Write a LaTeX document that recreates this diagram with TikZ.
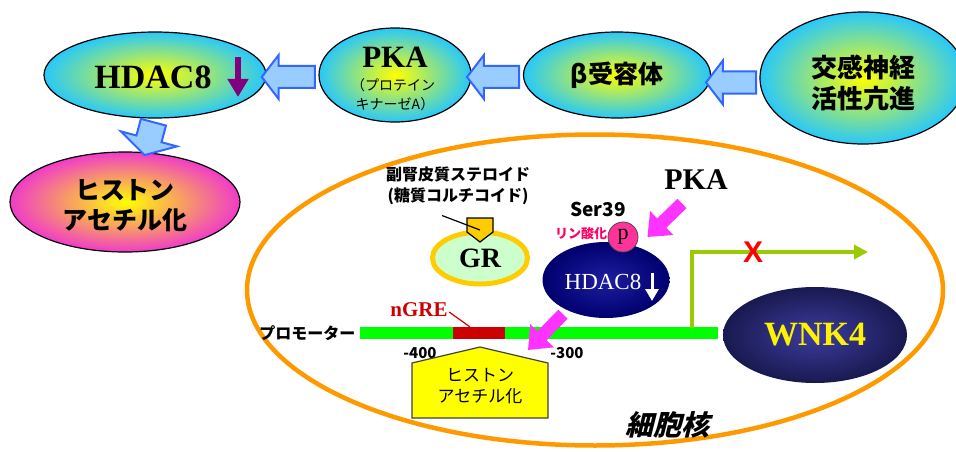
\documentclass[tikz,border=0pt]{standalone}
\usepackage{fontspec}
\setmainfont{Liberation Serif}
\setsansfont{Liberation Sans}
\newfontfamily\jp{Noto Sans CJK JP}
\newfontfamily\jpit{Noto Sans CJK JP}[FakeSlant=0.25]
\usetikzlibrary{shapes.geometric,shapes.arrows,arrows.meta,calc}
\newcommand\fsz[2]{\fontsize{#1}{#2}\selectfont}
\definecolor{skyc}{RGB}{40,200,250}
\definecolor{magell}{RGB}{240,60,200}
\definecolor{arrowblue}{RGB}{51,102,255}
\definecolor{arrowfill}{RGB}{153,204,255}
\definecolor{purpc}{RGB}{128,0,128}
\definecolor{orangec}{RGB}{255,153,0}
\definecolor{grgreen}{RGB}{204,255,204}
\definecolor{grgold}{RGB}{255,204,0}
\definecolor{magc}{RGB}{255,51,255}
\definecolor{linc}{RGB}{255,0,102}
\definecolor{pinkc}{RGB}{255,51,153}
\definecolor{navyin}{RGB}{30,30,160}
\definecolor{navyout}{RGB}{0,0,110}
\definecolor{promgreen}{RGB}{0,255,0}
\definecolor{ngred}{RGB}{204,0,0}
\definecolor{lgreen}{RGB}{153,204,0}
\definecolor{wnkin}{RGB}{60,60,160}
\definecolor{wnkout}{RGB}{25,25,80}
\definecolor{housey}{RGB}{255,255,0}
\begin{document}
\begin{tikzpicture}[x=1pt,y=-1pt,
  topell/.style={ellipse, draw=black, line width=1.2pt, inner color=yellow, outer color=skyc, inner sep=0pt},
  blockarr/.style={single arrow, draw=arrowblue, fill=arrowfill, line width=2pt, inner xsep=0pt, inner ysep=10pt,
     single arrow head extend=11pt, single arrow tip angle=105, shape border rotate=180},
  magarr/.style={draw=magc, line width=13pt, -{Triangle[width=32pt,length=20pt]}},
  larr/.style={draw=lgreen, line width=4pt, -{Triangle[width=14pt,length=14pt]}},
  jpb/.style={font=\jp\bfseries\fsz{#1}{#1}},
]
\useasboundingbox (0,0) rectangle (956,452);

% nucleus
\node[ellipse, draw=orangec, line width=4.5pt, minimum width=696, minimum height=311, inner sep=0pt] (nuc) at (595,290) {};

% top row
\node[topell, minimum width=222, minimum height=86] (hdac) at (155,75) {};
\node[font=\bfseries\fsz{34}{34}] (hdact) at (153,77) {HDAC8};
\coordinate (hdacdn) at (238,57);
\draw[purpc, line width=6pt, -{Triangle[width=20pt,length=18pt]}] (hdacdn) -- ++(0,40);

\node[topell, minimum width=152, minimum height=94] (pka) at (395,75) {};
\node[anchor=base, font=\bfseries\fsz{31}{31}] (pkat) at (395,67) {PKA};
\node[anchor=base, font=\jp\fsz{14}{14}] (pkat2) at (393,90) {（プロテイン};
\node[anchor=base, font=\jp\fsz{14}{14}] (pkat3) at (395,110) {キナーゼA）};

\node[topell, minimum width=187, minimum height=86, font=\jp\bfseries\fsz{25}{25}] (beta) at (617,75) {β受容体};

\node[topell, minimum width=206, minimum height=132] (kokan) at (863,78) {};
\node[font=\jp\bfseries\fsz{26}{31}, align=center] (kokant) at (863,83) {交感神経\\活性亢進};

\node[blockarr, minimum height=53] (a1) at ($(hdac.east)!0.5!(pka.west)+(0,2)$) {};
\node[blockarr, minimum height=52] (a2) at ($(pka.east)!0.5!(beta.west)+(0,2)$) {};
\node[blockarr, minimum height=50] (a3) at ($(beta.east)!0.5!(kokan.west)+(0,6)$) {};

\node[ellipse, draw=black, line width=1.2pt, inner color=yellow, outer color=magell, inner sep=0pt,
      minimum width=230, minimum height=100] (hist) at (125,202) {};
\node[font=\jp\bfseries\fsz{25}{30}, align=center] (histt) at (125,206) {ヒストン\\アセチル化};
\node[blockarr, rotate=75, minimum height=34, inner ysep=12pt,
      single arrow head extend=16pt, single arrow tip angle=120] (a4) at ($(hdac.south)!0.5!(hist.north)+(10,0)$) {};

% inside nucleus
\node[font=\jp\bfseries\fsz{16}{21}, align=center] (ster) at (458,186) {副腎皮質ステロイド\\(糖質コルチコイド)};
\node[ellipse, draw=grgold, line width=5pt, fill=grgreen, minimum width=95, minimum height=52, inner sep=0pt,
      font=\bfseries\fsz{28}{28}] (gr) at (480,258) {GR};
\coordinate (lig) at (480,230);
\draw[fill=grgold, draw=black, line width=1.2pt] (467,218) -- (493,218) -- (493,232) -- (480,242) -- (467,232) -- cycle;
\draw[line width=1.2pt] ($(ster.south)+(-16,7)$) -- (lig);

\node[font=\bfseries\fsz{30}{30}] (pka2) at (696,180) {PKA};
\node[jpb=19] (ser) at (598,209) {Ser39};
\node[jpb=13, text=linc] (lin) at (581,234) {リン酸化};

\node[ellipse, inner color=navyin, outer color=navyout, minimum width=127, minimum height=76, inner sep=0pt] (hd2) at (606,280) {};
\node[text=white, font=\fsz{23}{23}] (hd2t) at (603,282) {HDAC8};
\coordinate (hd2dn) at (652,273);
\draw[white, line width=3pt, -{Triangle[width=13pt,length=12pt]}] (hd2dn) -- ++(0,28);
\node[circle, fill=pinkc, draw=black!70, line width=0.8pt, minimum size=30, inner sep=0pt, font=\fsz{22}{22}] (p) at (623,237) {p};

\draw[magarr] ($(pka2.south)+(-14,10)$) -- ($(p.east)+(9,0)$);

% promoter
\node[fill=promgreen, inner sep=0pt, minimum width=358, minimum height=12] (bar) at (539,333) {};
\node[fill=ngred, inner sep=0pt, minimum width=52, minimum height=12] (ngre) at (479,333) {};
\node[text=ngred, font=\bfseries\fsz{21}{21}] (ngret) at (419,310) {nGRE};
\draw[ngred, line width=1.2pt] ($(ngret.east)+(-2,2)$) -- ($(ngre.north west)+(17,0)$);
\node[jpb=16, anchor=east] (promt) at ($(bar.west)+(-1,0)$) {プロモーター};
\node[jpb=15] (m400) at (420,353) {-400};
\node[jpb=15] (m300) at (567,353) {-300};

% house
\coordinate (hapex) at (480,347);
\draw[fill=housey, draw=black!75, line width=1.2pt] (hapex) -- (548,363) -- (548,418) -- (412,418) -- (412,363) -- cycle;
\node[font=\jp\fsz{17}{21}, align=center] (house) at (480,386) {ヒストン\\アセチル化};
\coordinate (roofpt) at (528,350);
\draw[magarr] ($(hd2.south)+(-43,-4)$) -- (roofpt);

% transcription
\coordinate (tss) at (692,328);
\coordinate (tsend) at (868,252);
\draw[larr] (tss) |- (tsend);
\node[text=red, font=\sffamily\bfseries\fsz{30}{30}] (xm) at (753,252) {X};

\node[ellipse, inner color=wnkin, outer color=wnkout, minimum width=184, minimum height=96, inner sep=0pt,
      text=yellow, font=\bfseries\fsz{34}{34}] (wnk) at (815,335) {WNK4};

\node[font=\jpit\bfseries\fsz{28}{28}] (kaku) at (667,425) {細胞核};
\end{tikzpicture}
\end{document}
